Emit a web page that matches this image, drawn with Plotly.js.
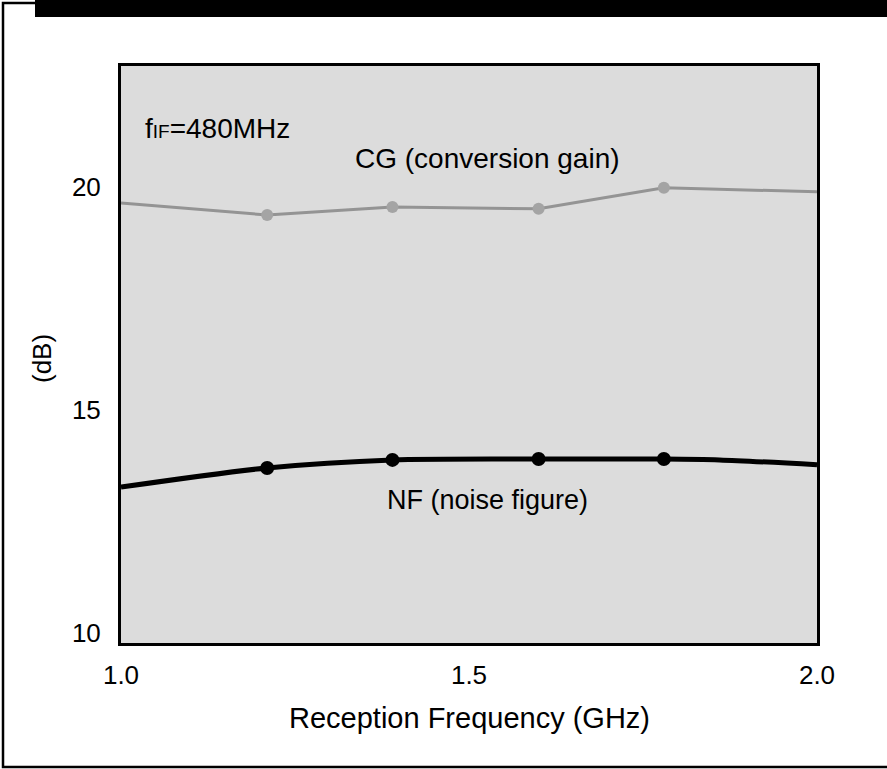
<!DOCTYPE html>
<html>
<head>
<meta charset="utf-8">
<script src="https://cdn.plot.ly/plotly-3.0.1.min.js"></script>
<style>
html,body{margin:0;padding:0;background:#fff;}
#chart{width:887px;height:769px;}
</style>
</head>
<body>
<div id="chart"></div>
<script>
// Data
const cgFreq = [1.0, 1.21, 1.39, 1.60, 1.78, 2.0];
const cgGain = [19.64, 19.37, 19.55, 19.51, 19.98, 19.89];
const cgMarkFreq = [1.21, 1.39, 1.60, 1.78];
const cgMarkGain = [19.37, 19.55, 19.51, 19.98];

const nfFreq = [1.0, 1.21, 1.39, 1.60, 1.78, 1.86, 2.0];
const nfValue = [13.27, 13.70, 13.88, 13.90, 13.90, 13.88, 13.77];
const nfMarkFreq = [1.21, 1.39, 1.60, 1.78];
const nfMarkValue = [13.70, 13.88, 13.90, 13.90];

const xTicks = [1.0, 1.5, 2.0];
const xTickText = ["1.0", "1.5", "2.0"];
const yTicks = [10, 15, 20];
const yTickText = ["10", "15", "20"];

const FONT = "Liberation Sans, Arial, Helvetica, sans-serif";

const traces = [
  {x: cgFreq, y: cgGain, mode: "lines", line: {color: "#949494", width: 3}, hoverinfo: "skip"},
  {x: cgMarkFreq, y: cgMarkGain, mode: "markers", marker: {color: "#a4a4a4", size: 12}, hoverinfo: "skip"},
  {x: nfFreq, y: nfValue, mode: "lines", line: {color: "#000", width: 5, shape: "spline", smoothing: 0.8}, hoverinfo: "skip"},
  {x: nfMarkFreq, y: nfMarkValue, mode: "markers", marker: {color: "#000", size: 14}, hoverinfo: "skip"}
];

const W = 887, H = 769, L = 121, R = 817, T = 66, B = 643;
const px = v => (v - L) / (R - L);
const py = v => (B - v) / (B - T);

const layout = {
  width: W, height: H,
  margin: {l: L, r: W - R, t: T, b: H - B, pad: 0},
  paper_bgcolor: "#fff",
  plot_bgcolor: "#dcdcdc",
  showlegend: false,
  font: {family: FONT, color: "#000", size: 26},
  xaxis: {
    range: [1.0, 2.0], tickvals: xTicks, ticktext: xTickText,
    showgrid: false, zeroline: false, ticks: "", showline: true, linecolor: "#000", linewidth: 3, mirror: true,
    tickfont: {size: 26, family: FONT}, ticklabelstandoff: 7
  },
  yaxis: {
    range: [9.776, 22.71], tickvals: yTicks, ticktext: yTickText,
    showgrid: false, zeroline: false, ticks: "", showline: true, linecolor: "#000", linewidth: 3, mirror: true,
    tickfont: {size: 26, family: FONT}, ticklabelstandoff: 12
  },
  shapes: [
    {type: "rect", xref: "paper", yref: "paper", x0: px(3), x1: px(895), y0: py(767), y1: py(3),
     line: {color: "#000", width: 2.5}, fillcolor: "rgba(0,0,0,0)", layer: "below"},
    {type: "rect", xref: "paper", yref: "paper", x0: px(35), x1: px(895), y0: py(17), y1: py(-5),
     line: {width: 0}, fillcolor: "#000"}
  ],
  annotations: [
    {text: "f<span style=\"font-size:19px\">IF</span>=480MHz", xref: "x", yref: "y", x: 1.032, y: 21.32,
     xanchor: "left", yanchor: "middle", showarrow: false, font: {size: 28, family: FONT}},
    {text: "CG (conversion gain)", xref: "x", yref: "y", x: 1.333, y: 20.63,
     xanchor: "left", yanchor: "middle", showarrow: false, font: {size: 28, family: FONT}},
    {text: "NF (noise figure)", xref: "x", yref: "y", x: 1.379, y: 12.98,
     xanchor: "left", yanchor: "middle", showarrow: false, font: {size: 27, family: FONT}},
    {text: "(dB)", xref: "paper", yref: "paper", x: px(42), y: py(359), textangle: -90,
     xanchor: "center", yanchor: "middle", showarrow: false, font: {size: 26, family: FONT}},
    {text: "Reception Frequency (GHz)", xref: "paper", yref: "paper", x: px(470), y: py(718),
     xanchor: "center", yanchor: "middle", showarrow: false, font: {size: 29, family: FONT}}
  ]
};

Plotly.newPlot("chart", traces, layout, {displayModeBar: false, staticPlot: true});
</script>
</body>
</html>
